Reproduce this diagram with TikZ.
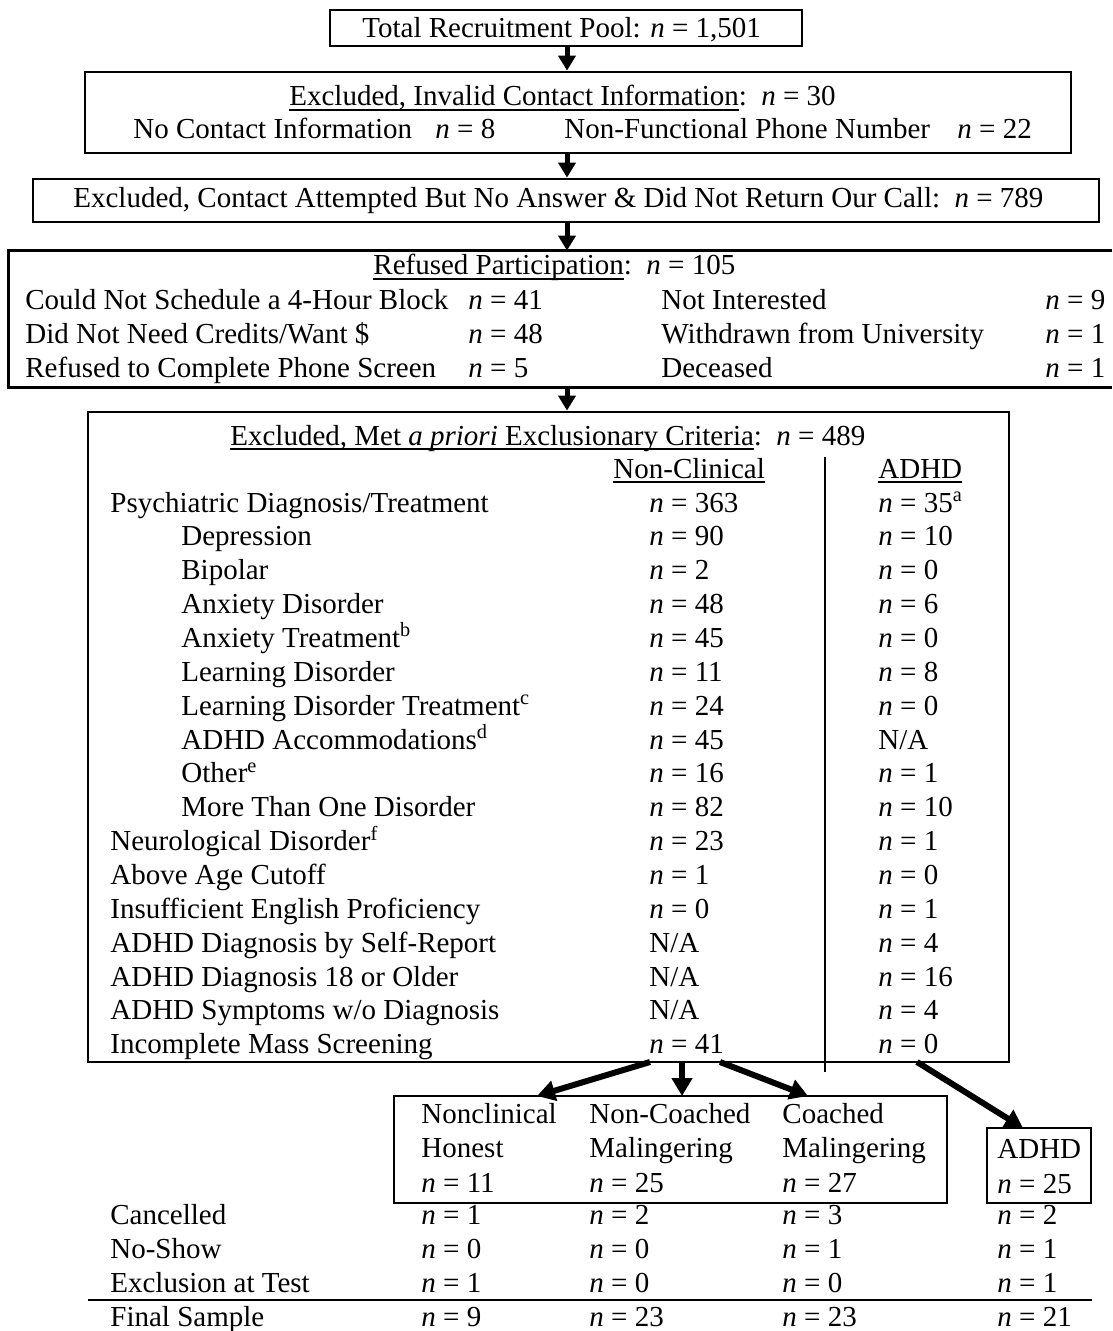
\documentclass[tikz,border=0pt]{standalone}
\usepackage{fontspec}
\setmainfont{Liberation Serif}
\usetikzlibrary{arrows.meta,fit}
\newcommand{\nv}[1]{\textit{n} = #1}
\newcommand{\ulx}[1]{\setbox0\hbox{#1}\rlap{\rule[-2.6pt]{\wd0}{0.9pt}}\box0}
\newcommand{\trow}[5]{%
  \node[txt] (l#1) at (#2, {512+33.86*#1}) {#3};
  \node[txt] (a#1) at (649, {512+33.86*#1}) {#4};
  \node[txt] (b#1) at (878, {512+33.86*#1}) {#5};}
\newcommand{\brow}[7]{%
  \node[txt] (#1l) at (110, #2) {#3};
  \node[txt] (#1a) at (421, #2) {\nv{#4}};
  \node[txt] (#1b) at (589, #2) {\nv{#5}};
  \node[txt] (#1c) at (782, #2) {\nv{#6}};
  \node[txt] (#1d) at (997, #2) {\nv{#7}};}
\begin{document}
\begin{tikzpicture}[x=0.5pt,y=-0.5pt,
  every node/.style={font=\fontsize{14.5pt}{17pt}\selectfont},
  txt/.style={anchor=base west, inner sep=0pt},
  box/.style={draw, line width=1.4pt, inner sep=0pt},
  frame/.style={inner sep=0pt},
  boxline/.style={line width=1.4pt},
  varr/.style={line width=2.5pt, -{Triangle[width=8.5pt,length=7.5pt]}},
  darr/.style={line width=3pt, -{Triangle[width=10pt,length=9pt]}},
]
\useasboundingbox (0,0) rectangle (1112,1331);

% boxes
\node[box, fit={(330,10) (802,46)}] (b1) {};
\node[box, fit={(85,72) (1071,153)}] (b2) {};
\node[box, fit={(33,179) (1099,222)}] (b3) {};
\node[frame, fit={(9,251) (1112,387)}] (b4) {};
\draw[boxline] (b4.north east) -- (b4.north west) -- (b4.south west) -- (b4.south east);
\node[box, fit={(88,412) (1009,1062)}] (b5) {};
\node[box, fit={(394,1096) (947,1203)}] (b6) {};
\node[box, fit={(987,1128) (1091,1203)}] (b7) {};

% vertical arrows
\coordinate (ax) at (567,0);
\draw[varr] (ax |- b1.south) -- (ax |- b2.north);
\draw[varr] (ax |- b2.south) -- (ax |- b3.north);
\draw[varr] (ax |- b3.south) -- (ax |- b4.north);
\draw[varr] (ax |- b4.south) -- (ax |- b5.north);

% box 1
\node[txt] (t1) at (362,38) {Total Recruitment Pool: \nv{1,501}};

% box 2
\node[txt] (t2) at (289,106) {\ulx{Excluded, Invalid Contact Information}:\ \ \nv{30}};
\node[txt] (t2a) at (133,139) {No Contact Information};
\node[txt] (t2b) at (435,139) {\nv{8}};
\node[txt] (t2c) at (564,139) {Non-Functional Phone Number};
\node[txt] (t2d) at (957,139) {\nv{22}};

% box 3
\node[txt] (t3) at (73,208) {Excluded, Contact Attempted But No Answer \& Did Not Return Our Call:\ \ \nv{789}};

% box 4
\node[txt] (t4) at (373,275) {\ulx{Refused Participation}:\ \ \nv{105}};
\node[txt] (t4a) at (25,310) {Could Not Schedule a 4-Hour Block};
\node[txt] (t4b) at (468,310) {\nv{41}};
\node[txt] (t4c) at (661,310) {Not Interested};
\node[txt] (t4d) at (1045,310) {\nv{9}};
\node[txt] (t4e) at (25,344) {Did Not Need Credits/Want \$};
\node[txt] (t4f) at (468,344) {\nv{48}};
\node[txt] (t4g) at (661,344) {Withdrawn from University};
\node[txt] (t4h) at (1045,344) {\nv{1}};
\node[txt] (t4i) at (25,378) {Refused to Complete Phone Screen};
\node[txt] (t4j) at (468,378) {\nv{5}};
\node[txt] (t4k) at (661,378) {Deceased};
\node[txt] (t4l) at (1045,378) {\nv{1}};

% box 5
\node[txt] (t5) at (230,445) {\ulx{Excluded, Met \textit{a priori} Exclusionary Criteria}:\ \ \nv{489}};
\node[txt] (h1) at (613,478) {\ulx{Non-Clinical}};
\node[txt] (h2) at (878,478) {\ulx{ADHD}};
\draw[line width=1pt] (825,457) -- (825,1072);

\trow{0}{110}{Psychiatric Diagnosis/Treatment}{\nv{363}}{\nv{35}\textsuperscript{a}}
\trow{1}{181}{Depression}{\nv{90}}{\nv{10}}
\trow{2}{181}{Bipolar}{\nv{2}}{\nv{0}}
\trow{3}{181}{Anxiety Disorder}{\nv{48}}{\nv{6}}
\trow{4}{181}{Anxiety Treatment\textsuperscript{b}}{\nv{45}}{\nv{0}}
\trow{5}{181}{Learning Disorder}{\nv{11}}{\nv{8}}
\trow{6}{181}{Learning Disorder Treatment\textsuperscript{c}}{\nv{24}}{\nv{0}}
\trow{7}{181}{ADHD Accommodations\textsuperscript{d}}{\nv{45}}{N/A}
\trow{8}{181}{Other\textsuperscript{e}}{\nv{16}}{\nv{1}}
\trow{9}{181}{More Than One Disorder}{\nv{82}}{\nv{10}}
\trow{10}{110}{Neurological Disorder\textsuperscript{f}}{\nv{23}}{\nv{1}}
\trow{11}{110}{Above Age Cutoff}{\nv{1}}{\nv{0}}
\trow{12}{110}{Insufficient English Proficiency}{\nv{0}}{\nv{1}}
\trow{13}{110}{ADHD Diagnosis by Self-Report}{N/A}{\nv{4}}
\trow{14}{110}{ADHD Diagnosis 18 or Older}{N/A}{\nv{16}}
\trow{15}{110}{ADHD Symptoms w/o Diagnosis}{N/A}{\nv{4}}
\trow{16}{110}{Incomplete Mass Screening}{\nv{41}}{\nv{0}}

% diagonal arrows
\coordinate (s1) at (650,1062);
\coordinate (s2) at (682,1062);
\coordinate (s3) at (720,1062);
\coordinate (s4) at (917,1062);
\coordinate (e1) at (537,1096);
\coordinate (e2) at (682,1096);
\coordinate (e3) at (808,1096);
\coordinate (e4) at (1023,1128);
\draw[darr] (s1) -- (e1);
\draw[darr] (s2) -- (e2);
\draw[darr] (s3) -- (e3);
\draw[darr] (s4) -- (e4);

% group boxes
\node[txt] (g1a) at (421,1123) {Nonclinical};
\node[txt] (g1b) at (421,1157) {Honest};
\node[txt] (g1c) at (421,1192) {\nv{11}};
\node[txt] (g2a) at (589,1123) {Non-Coached};
\node[txt] (g2b) at (589,1157) {Malingering};
\node[txt] (g2c) at (589,1192) {\nv{25}};
\node[txt] (g3a) at (782,1123) {Coached};
\node[txt] (g3b) at (782,1157) {Malingering};
\node[txt] (g3c) at (782,1192) {\nv{27}};
\node[txt] (g4a) at (997,1158) {ADHD};
\node[txt] (g4b) at (997,1193) {\nv{25}};

% bottom rows
\brow{c}{1224}{Cancelled}{1}{2}{3}{2}
\brow{s}{1258}{No-Show}{0}{0}{1}{1}
\brow{x}{1292}{Exclusion at Test}{1}{0}{0}{1}
\draw[line width=1.4pt] (88,1300) -- (1092,1300);
\brow{f}{1326}{Final Sample}{9}{23}{23}{21}
\end{tikzpicture}
\end{document}
